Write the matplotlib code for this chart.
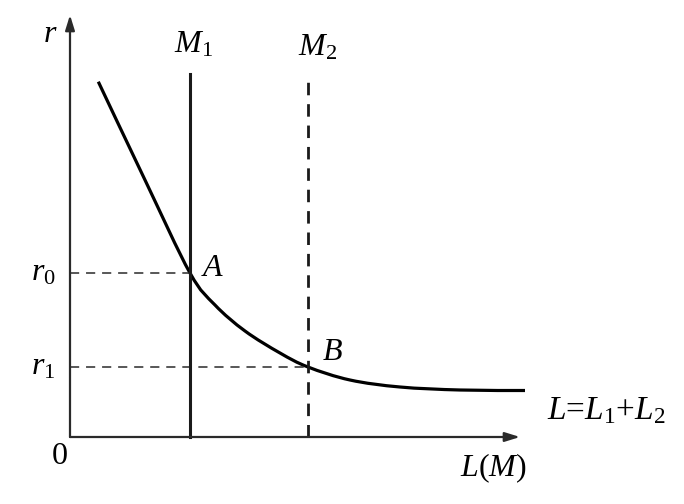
import numpy as np
import matplotlib
matplotlib.use("Agg")
import matplotlib.pyplot as plt
from matplotlib.path import Path
from matplotlib.patches import PathPatch

plt.rcParams['font.family'] = ['Liberation Serif', 'DejaVu Serif']
plt.rcParams['mathtext.fontset'] = 'custom'
plt.rcParams['mathtext.rm'] = 'Liberation Serif'
plt.rcParams['mathtext.it'] = 'Liberation Serif:italic'

# liquidity demand curve L = L1 + L2
curve_x = [2.83, 7.5, 12.0, 14.5, 17.5, 21.0, 23.8, 28.0, 33.0, 39.0, 45.5]
curve_y = [35.53, 25.7, 16.4, 13.2, 10.6, 8.4, 7.0, 5.7, 5.0, 4.7, 4.65]

m1 = 12.0      # money supply M1
m2 = 23.8      # money supply M2
r0 = 16.4
r1 = 7.0
line_top = 36.3
x_end = 45.0
y_end = 42.2

fig = plt.figure(figsize=(6.84, 5.04), dpi=100)
ax = fig.add_axes([0, 0, 1, 1])
ax.set_xlim(-7.0, 61.4)
ax.set_ylim(-6.7, 43.7)
ax.axis('off')

axis_col = '#2a2a2a'
arrow = dict(arrowstyle='-|>,head_length=0.9,head_width=0.28', lw=1.6,
             color=axis_col, shrinkA=0, shrinkB=0)
ax.annotate('', xy=(x_end, 0), xytext=(0, 0), arrowprops=arrow)
ax.annotate('', xy=(0, y_end), xytext=(0, 0), arrowprops=arrow)

# guide lines
ax.plot([0, m1], [r0, r0], color=axis_col, lw=1.1, dashes=(6, 4.5))
ax.plot([0, m2], [r1, r1], color=axis_col, lw=1.1, dashes=(6, 4.5))

# money supply lines
ax.plot([m1, m1], [0, line_top], color='#1a1a1a', lw=2.2)
ax.plot([m2, m2], [0, line_top], color='#1a1a1a', lw=2.0, dashes=(4.5, 3.2))

# demand curve: cubic bezier segments through the read points
pts = np.column_stack([curve_x, curve_y])
n = len(pts)
verts = [pts[0]]
codes = [Path.MOVETO]
for i in range(n - 1):
    p_prev = pts[max(i - 1, 0)]
    p_next2 = pts[min(i + 2, n - 1)]
    c1 = pts[i] + (pts[i + 1] - p_prev) / 6
    c2 = pts[i + 1] - (p_next2 - pts[i]) / 6
    verts += [c1, c2, pts[i + 1]]
    codes += [Path.CURVE4] * 3
ax.add_patch(PathPatch(Path(verts, codes), fill=False, color='black',
                       lw=2.3, capstyle='butt'))

fs = 23
ax.text(-2.0, 40.2, r'$r$', fontsize=fs, ha='center', va='center')
ax.text(m1 + 0.3, 39.2, r'$M_1$', fontsize=fs, ha='center', va='center')
ax.text(m2 + 1.0, 38.9, r'$M_2$', fontsize=fs, ha='center', va='center')
ax.text(-2.7, r0, r'$r_0$', fontsize=fs, ha='center', va='center')
ax.text(-2.7, r1, r'$r_1$', fontsize=fs, ha='center', va='center')
ax.text(14.3, 16.8, r'$A$', fontsize=fs, ha='center', va='center')
ax.text(26.2, 8.4, r'$B$', fontsize=fs, ha='center', va='center')
ax.text(-1.0, -1.9, '0', fontsize=fs, ha='center', va='center')
ax.text(42.3, -3.1, r'$L(M)$', fontsize=fs, ha='center', va='center')
ax.text(53.6, 2.6, r'$L$=$L_1$+$L_2$', fontsize=fs + 1, ha='center',
        va='center')

fig.savefig('out.png', dpi=100)
